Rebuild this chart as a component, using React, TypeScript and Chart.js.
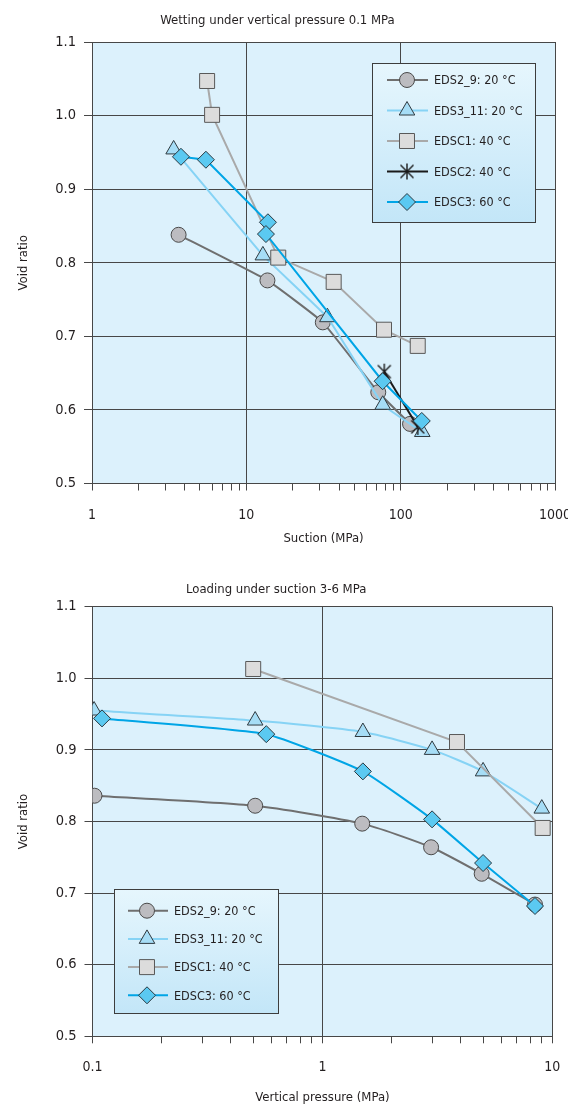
import React, { useEffect, useRef } from 'react';
import { Chart, registerables } from 'chart.js';

Chart.register(...registerables);

const FONT_FAMILY = "'Liberation Sans Narrow', 'DejaVu Sans Condensed', 'Arial Narrow', sans-serif";
const TEXT = '#231f20';
const GRID = '#474747';
const PLOT_BG = '#dcf1fc';

// ---------- titles ----------
const TOP_TITLE = 'Wetting under vertical pressure 0.1 MPa';
const TOP_X_TITLE = 'Suction (MPa)';
const BOTTOM_TITLE = 'Loading under suction 3-6 MPa';
const BOTTOM_X_TITLE = 'Vertical pressure (MPa)';
const Y_TITLE = 'Void ratio';

// ---------- series names ----------
const NAME_EDS2_9 = 'EDS2_9: 20 °C';
const NAME_EDS3_11 = 'EDS3_11: 20 °C';
const NAME_EDSC1 = 'EDSC1: 40 °C';
const NAME_EDSC2 = 'EDSC2: 40 °C';
const NAME_EDSC3 = 'EDSC3: 60 °C';

// ---------- tick labels ----------
const TOP_X_DECADES = [1, 10, 100, 1000];
const BOTTOM_X_DECADES = [0.1, 1, 10];
const Y_TICK_VALUES = [0.5, 0.6, 0.7, 0.8, 0.9, 1.0, 1.1];

// ---------- wetting (top) data: suction (MPa) / void ratio ----------
const WET_EDS2_9_SUCTION = [3.64, 13.7, 31.3, 71.6, 115];
const WET_EDS2_9_VOID = [0.838, 0.776, 0.719, 0.624, 0.581];
const WET_EDS3_11_SUCTION = [3.38, 12.8, 33.5, 76.5, 138];
const WET_EDS3_11_VOID = [0.954, 0.81, 0.726, 0.607, 0.57];
const WET_EDSC1_SUCTION = [5.57, 6.0, 16.1, 36.8, 78, 129];
const WET_EDSC1_VOID = [1.047, 1.001, 0.807, 0.774, 0.709, 0.687];
const WET_EDSC2_SUCTION = [78.3, 129];
const WET_EDSC2_VOID = [0.652, 0.577];
const WET_EDSC3_SUCTION = [3.77, 5.47, 13.8, 13.4, 76.4, 137];
const WET_EDSC3_VOID = [0.944, 0.94, 0.855, 0.839, 0.639, 0.585];

// ---------- loading (bottom) data: vertical pressure (MPa) / void ratio ----------
const LOAD_EDS2_9_PRESSURE = [0.102, 0.51, 1.49, 2.97, 4.93, 8.41];
const LOAD_EDS2_9_VOID = [0.836, 0.822, 0.797, 0.764, 0.727, 0.684];
const LOAD_EDS3_11_PRESSURE = [0.1016, 0.51, 1.5, 3.0, 5.0, 9.0];
const LOAD_EDS3_11_VOID = [0.955, 0.941, 0.925, 0.9, 0.87, 0.818];
const LOAD_EDSC1_PRESSURE = [0.5, 3.85, 9.08];
const LOAD_EDSC1_VOID = [1.013, 0.911, 0.791];
const LOAD_EDSC3_PRESSURE = [0.11, 0.57, 1.5, 3.0, 5.0, 8.41];
const LOAD_EDSC3_VOID = [0.944, 0.922, 0.87, 0.803, 0.742, 0.682];

type MarkerKind = 'circle' | 'triangle' | 'rect' | 'rectRot' | 'asterisk';
type SeriesStyle = { line: string; fill: string; border: string; marker: MarkerKind; r: number };

const STYLES: Record<string, SeriesStyle> = {
  [NAME_EDS2_9]: { line: '#6f6f6f', fill: '#bcbcc0', border: '#4a4a4a', marker: 'circle', r: 7.5 },
  [NAME_EDS3_11]: { line: '#86d3f5', fill: '#a6ddf6', border: '#2f3a40', marker: 'triangle', r: 9 },
  [NAME_EDSC1]: { line: '#a9a9a9', fill: '#dcdcdc', border: '#595959', marker: 'rect', r: 10.6 },
  [NAME_EDSC2]: { line: '#1a1a1a', fill: '#1a1a1a', border: '#1a1a1a', marker: 'asterisk', r: 8 },
  [NAME_EDSC3]: { line: '#00a5e6', fill: '#5bc9f1', border: '#2a3a42', marker: 'rectRot', r: 8.5 },
};

type Series = { name: string; xs: number[]; ys: number[]; tension: number };

let asteriskCanvas: HTMLCanvasElement | null = null;
function getAsterisk(): HTMLCanvasElement {
  if (asteriskCanvas) return asteriskCanvas;
  const c = document.createElement('canvas');
  c.width = 18;
  c.height = 18;
  const g = c.getContext('2d')!;
  g.strokeStyle = '#1a1a1a';
  g.lineWidth = 1.4;
  g.beginPath();
  g.moveTo(9, 1);
  g.lineTo(9, 17);
  g.moveTo(2.5, 2.5);
  g.lineTo(15.5, 15.5);
  g.moveTo(15.5, 2.5);
  g.lineTo(2.5, 15.5);
  g.stroke();
  asteriskCanvas = c;
  return c;
}

function drawMarker(ctx: CanvasRenderingContext2D, st: SeriesStyle, x: number, y: number) {
  if (st.marker === 'asterisk') {
    const img = getAsterisk();
    ctx.drawImage(img, x - img.width / 2, y - img.height / 2);
    return;
  }
  ctx.save();
  ctx.fillStyle = st.fill;
  ctx.strokeStyle = st.border;
  ctx.lineWidth = 1;
  ctx.beginPath();
  const r = st.r;
  if (st.marker === 'circle') {
    ctx.arc(x, y, r, 0, Math.PI * 2);
  } else if (st.marker === 'triangle') {
    ctx.moveTo(x, y - r);
    ctx.lineTo(x + r * Math.sin((2 * Math.PI) / 3), y - r * Math.cos((2 * Math.PI) / 3));
    ctx.lineTo(x + r * Math.sin((4 * Math.PI) / 3), y - r * Math.cos((4 * Math.PI) / 3));
    ctx.closePath();
  } else if (st.marker === 'rect') {
    const s = r * Math.SQRT1_2;
    ctx.rect(x - s, y - s, 2 * s, 2 * s);
  } else {
    ctx.moveTo(x - r, y);
    ctx.lineTo(x, y - r);
    ctx.lineTo(x + r, y);
    ctx.lineTo(x, y + r);
    ctx.closePath();
  }
  ctx.fill();
  ctx.stroke();
  ctx.restore();
}

type LegendBox = {
  x: number; y: number; w: number; h: number;
  rowStart: number; rowGap: number;
  lineX1: number; lineX2: number; markerX: number; textX: number;
};

const bgPlugin = {
  id: 'plotBg',
  beforeDraw(chart: any) {
    const { ctx, chartArea } = chart;
    ctx.save();
    ctx.fillStyle = PLOT_BG;
    ctx.fillRect(chartArea.left, chartArea.top, chartArea.right - chartArea.left, chartArea.bottom - chartArea.top);
    ctx.restore();
  },
};

function legendPlugin(box: LegendBox, series: Series[]) {
  return {
    id: 'insideLegend',
    afterDraw(chart: any) {
      const ctx: CanvasRenderingContext2D = chart.ctx;
      ctx.save();
      const grad = ctx.createLinearGradient(0, box.y, 0, box.y + box.h);
      grad.addColorStop(0, '#e6f6fd');
      grad.addColorStop(1, '#c3e6f8');
      ctx.fillStyle = grad;
      ctx.fillRect(box.x, box.y, box.w, box.h);
      ctx.strokeStyle = '#3d3d3d';
      ctx.lineWidth = 1;
      ctx.strokeRect(Math.round(box.x) + 0.5, Math.round(box.y) + 0.5, Math.round(box.w), Math.round(box.h));
      series.forEach((s, i) => {
        const st = STYLES[s.name];
        const y = box.rowStart + i * box.rowGap;
        ctx.strokeStyle = st.line;
        ctx.lineWidth = 2;
        ctx.beginPath();
        ctx.moveTo(box.lineX1, y);
        ctx.lineTo(box.lineX2, y);
        ctx.stroke();
        drawMarker(ctx, st, box.markerX, y);
        ctx.fillStyle = TEXT;
        ctx.font = `12.5px ${FONT_FAMILY}`;
        ctx.textBaseline = 'middle';
        ctx.textAlign = 'left';
        ctx.fillText(s.name, box.textX, y + 1);
      });
      ctx.restore();
    },
  };
}

function logTicks(decades: number[]): number[] {
  const out: number[] = [];
  for (let i = 0; i < decades.length - 1; i++) {
    for (let k = 1; k <= 9; k++) out.push(decades[i] * k);
  }
  out.push(decades[decades.length - 1]);
  return out;
}

type ChartSpec = {
  title: string; xTitle: string; decades: number[]; series: Series[];
  titlePadTop: number; titlePadBottom: number; xAxisHeight: number; xTitlePadBottom: number;
  rightPad: number; yAxisWidth: number; legend: LegendBox;
};

function buildConfig(spec: ChartSpec): any {
  const xTickValues = logTicks(spec.decades);
  const n = spec.series.length;
  const datasets = spec.series.map((s, i) => {
    const st = STYLES[s.name];
    const pointStyle: any = st.marker === 'asterisk' ? getAsterisk() : st.marker;
    return {
      label: s.name,
      data: s.xs.map((x, j) => ({ x, y: s.ys[j] })),
      showLine: true,
      borderColor: st.line,
      borderWidth: 2,
      backgroundColor: st.fill,
      pointStyle,
      pointRadius: st.r,
      pointHoverRadius: st.r,
      pointBackgroundColor: st.fill,
      pointBorderColor: st.border,
      pointBorderWidth: 1,
      tension: s.tension,
      order: n - i,
    };
  });
  return {
    type: 'scatter',
    data: { datasets },
    options: {
      responsive: false,
      animation: false,
      devicePixelRatio: 1,
      layout: { padding: { left: 0, right: spec.rightPad, top: 0, bottom: 0 } },
      plugins: {
        legend: { display: false },
        tooltip: { enabled: false },
        title: {
          display: true,
          text: spec.title,
          color: TEXT,
          font: { family: FONT_FAMILY, size: 13, weight: 'normal', lineHeight: 1.2 },
          padding: { top: spec.titlePadTop, bottom: spec.titlePadBottom },
        },
      },
      scales: {
        x: {
          type: 'logarithmic',
          min: spec.decades[0],
          max: spec.decades[spec.decades.length - 1],
          afterBuildTicks: (scale: any) => {
            scale.ticks = xTickValues.map((v) => ({ value: v, major: spec.decades.includes(v) }));
          },
          afterFit: (scale: any) => {
            scale.height = spec.xAxisHeight;
            scale.paddingLeft = 0;
            scale.paddingRight = 0;
          },
          ticks: {
            autoSkip: false,
            maxRotation: 0,
            minRotation: 0,
            padding: 16,
            color: TEXT,
            font: { family: FONT_FAMILY, size: 14 },
            callback: (v: any) => (spec.decades.includes(v) ? String(v) : ''),
          },
          grid: {
            color: (c: any) => (c.tick && c.tick.major ? GRID : 'rgba(0,0,0,0)'),
            tickColor: GRID,
            tickLength: 7,
            lineWidth: 1,
          },
          border: { display: true, color: GRID, width: 1 },
          title: {
            display: true,
            text: spec.xTitle,
            color: TEXT,
            font: { family: FONT_FAMILY, size: 13, lineHeight: 1.2 },
            padding: { top: 0, bottom: spec.xTitlePadBottom },
          },
        },
        y: {
          type: 'linear',
          min: 0.5,
          max: 1.1,
          afterBuildTicks: (scale: any) => {
            scale.ticks = Y_TICK_VALUES.map((v) => ({ value: v }));
          },
          afterFit: (scale: any) => {
            scale.width = spec.yAxisWidth;
            scale.paddingTop = 0;
            scale.paddingBottom = 0;
          },
          ticks: {
            padding: 8,
            color: TEXT,
            font: { family: FONT_FAMILY, size: 14.5 },
            callback: (v: any) => Number(v).toFixed(1),
          },
          grid: { color: GRID, tickColor: GRID, tickLength: 8, lineWidth: 1 },
          border: { display: true, color: GRID, width: 1 },
          title: {
            display: true,
            text: Y_TITLE,
            color: TEXT,
            font: { family: FONT_FAMILY, size: 13, lineHeight: 1.2 },
            padding: { top: 16, bottom: 0 },
          },
        },
      },
    },
    plugins: [bgPlugin, legendPlugin(spec.legend, spec.series)],
  };
}

const TOP_SERIES: Series[] = [
  { name: NAME_EDS2_9, xs: WET_EDS2_9_SUCTION, ys: WET_EDS2_9_VOID, tension: 0.1 },
  { name: NAME_EDS3_11, xs: WET_EDS3_11_SUCTION, ys: WET_EDS3_11_VOID, tension: 0.05 },
  { name: NAME_EDSC1, xs: WET_EDSC1_SUCTION, ys: WET_EDSC1_VOID, tension: 0 },
  { name: NAME_EDSC2, xs: WET_EDSC2_SUCTION, ys: WET_EDSC2_VOID, tension: 0 },
  { name: NAME_EDSC3, xs: WET_EDSC3_SUCTION, ys: WET_EDSC3_VOID, tension: 0 },
];

const BOTTOM_SERIES: Series[] = [
  { name: NAME_EDS2_9, xs: LOAD_EDS2_9_PRESSURE, ys: LOAD_EDS2_9_VOID, tension: 0.2 },
  { name: NAME_EDS3_11, xs: LOAD_EDS3_11_PRESSURE, ys: LOAD_EDS3_11_VOID, tension: 0.2 },
  { name: NAME_EDSC1, xs: LOAD_EDSC1_PRESSURE, ys: LOAD_EDSC1_VOID, tension: 0 },
  { name: NAME_EDSC3, xs: LOAD_EDSC3_PRESSURE, ys: LOAD_EDSC3_VOID, tension: 0.15 },
];

const TOP_SPEC: ChartSpec = {
  title: TOP_TITLE,
  xTitle: TOP_X_TITLE,
  decades: TOP_X_DECADES,
  series: TOP_SERIES,
  titlePadTop: 13,
  titlePadBottom: 13.4,
  xAxisHeight: 76.5,
  xTitlePadBottom: 14,
  rightPad: 13,
  yAxisWidth: 92,
  legend: {
    x: 372, y: 63, w: 163, h: 159,
    rowStart: 80, rowGap: 30.5,
    lineX1: 387, lineX2: 428, markerX: 407, textX: 434,
  },
};

const BOTTOM_SPEC: ChartSpec = {
  title: BOTTOM_TITLE,
  xTitle: BOTTOM_X_TITLE,
  decades: BOTTOM_X_DECADES,
  series: BOTTOM_SERIES,
  titlePadTop: 21.5,
  titlePadBottom: 9.6,
  xAxisHeight: 71.7,
  xTitlePadBottom: 3,
  rightPad: 15.7,
  yAxisWidth: 92.5,
  legend: {
    x: 114, y: 329, w: 164, h: 124,
    rowStart: 350.7, rowGap: 28.2,
    lineX1: 128, lineX2: 168, markerX: 147, textX: 174,
  },
};

function ChartCanvas({ spec, width, height, top }: { spec: ChartSpec; width: number; height: number; top: number }) {
  const ref = useRef<HTMLCanvasElement>(null);
  useEffect(() => {
    if (!ref.current) return;
    const chart = new Chart(ref.current, buildConfig(spec));
    return () => chart.destroy();
  }, [spec]);
  return (
    <canvas
      ref={ref}
      width={width}
      height={height}
      style={{ position: 'absolute', left: 0, top, width, height, display: 'block' }}
    />
  );
}

export default function App() {
  return (
    <div style={{ position: 'absolute', left: 0, top: 0, width: 568, height: 1108, background: '#ffffff' }}>
      <ChartCanvas spec={TOP_SPEC} width={568} height={560} top={0} />
      <ChartCanvas spec={BOTTOM_SPEC} width={568} height={548} top={560} />
    </div>
  );
}
